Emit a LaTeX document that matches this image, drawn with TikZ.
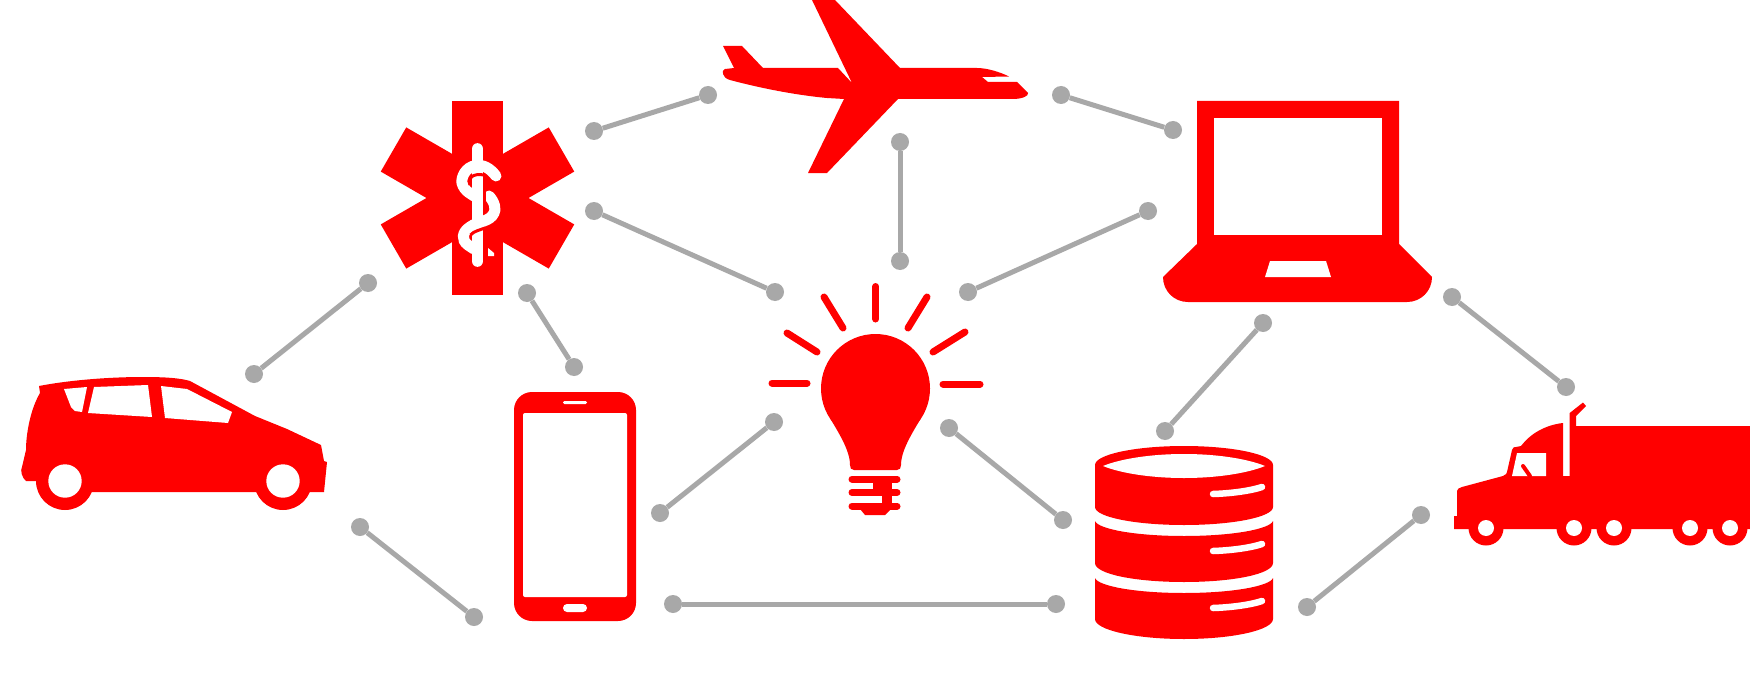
\documentclass[tikz,border=0pt]{standalone}
\definecolor{iconred}{HTML}{FF0000}
\definecolor{linkgray}{HTML}{A8A8A8}
\tikzset{
  icon/.style={fill=iconred,draw=none},
  hole/.style={fill=white,draw=none},
  ray/.style={draw=iconred,line width=7pt,line cap=round},
  cutline/.style={draw=white,line cap=round},
  dot/.style={circle,fill=linkgray,draw=none,minimum size=18pt,inner sep=0pt},
  link/.style={draw=linkgray,line width=5pt}
}
\begin{document}
\begin{tikzpicture}[x=1pt,y=-1pt]
\useasboundingbox (0,0) rectangle (1750,682);
\fill[white] (0,0) rectangle (1750,682);
% connector end points
\node[dot] (a1) at (594,131) {}; \node[dot] (a2) at (708,95) {};
\node[dot] (b1) at (594,211) {}; \node[dot] (b2) at (775,292) {};
\node[dot] (c1) at (900,142) {}; \node[dot] (c2) at (900,261) {};
\node[dot] (d1) at (1061,95) {}; \node[dot] (d2) at (1173,130) {};
\node[dot] (e1) at (1148,211) {}; \node[dot] (e2) at (968,292) {};
\node[dot] (f1) at (254,374) {}; \node[dot] (f2) at (368,283) {};
\node[dot] (g1) at (527,293) {}; \node[dot] (g2) at (574,367) {};
\node[dot] (h1) at (360,527) {}; \node[dot] (h2) at (474,617) {};
\node[dot] (i1) at (660,513) {}; \node[dot] (i2) at (774,422) {};
\node[dot] (j1) at (949,428) {}; \node[dot] (j2) at (1063,520) {};
\node[dot] (k1) at (673,604) {}; \node[dot] (k2) at (1056,604) {};
\node[dot] (l1) at (1165,431) {}; \node[dot] (l2) at (1263,323) {};
\node[dot] (m1) at (1452,297) {}; \node[dot] (m2) at (1566,387) {};
\node[dot] (n1) at (1307,607) {}; \node[dot] (n2) at (1421,515) {};
\foreach \p/\q in {a1/a2,b1/b2,c1/c2,d1/d2,e1/e2,f1/f2,g1/g2,h1/h2,i1/i2,j1/j2,k1/k2,l1/l2,m1/m2,n1/n2}
  \draw[link] (\p) -- (\q);
% car
\fill[icon] (39,386) .. controls (70,380) and (110,377) .. (143,377)
  .. controls (165,377) and (180,378) .. (190,381) -- (255,416) -- (287,429) -- (321,445)
  -- (324,461) -- (327,462) -- (324,492) -- (92,492) -- (36,481) -- (26,481)
  .. controls (22,478) and (20,470) .. (22,467) -- (26,450)
  .. controls (26,435) and (30,410) .. (40,393) -- cycle;
\fill[icon] (65,481) circle[radius=29pt];
\fill[icon] (283,481) circle[radius=29pt];
\fill[hole] (65,481) circle[radius=16.7pt];
\fill[hole] (283,481) circle[radius=16.7pt];
\fill[hole] (64,389) -- (87,387) -- (82,412) -- (75,411) -- (71,407) -- cycle;
\fill[hole] (94,387) -- (148,385) -- (152,417) -- (88,413) -- cycle;
\fill[hole] (161,386) -- (187,389) -- (232,412) -- (228,423) -- (165,418) -- cycle;
% star of life
\fill[icon] (452,101) rectangle (503,295);
\fill[icon,rotate around={60:(477.5,198)}] (452,101) rectangle (503,295);
\fill[icon,rotate around={-60:(477.5,198)}] (452,101) rectangle (503,295);
\draw[cutline,line width=11.7pt] (477.5,149) -- (477.5,261);
\draw[cutline,line width=11pt] (496,176) .. controls (490,168) and (483,164.5) .. (476,165.5)
  .. controls (465,167) and (461,178) .. (462,183) .. controls (464,191) and (472,195) .. (478,198);
\draw[iconred,line width=3pt] (470,185) .. controls (467,178) and (473,173) .. (484,175);
\draw[cutline,line width=11pt] (489,196) .. controls (495,202) and (496,210) .. (494,213)
  .. controls (490,222) and (478,221) .. (470,227) .. controls (462,232) and (461,240) .. (468,245) -- (474,249);
\draw[iconred,line width=3pt] (484.5,178) -- (484.5,212);
\draw[iconred,line width=3pt] (470.5,235) .. controls (474,231) and (480,230) .. (485,228);
\fill[hole] (488,248) -- (494,253) -- (494,256) -- (488,256) -- cycle;
% plane
\fill[icon] (723,46) -- (742,46) -- (763,68) -- (838,68) -- (852,83) -- (812,0) -- (835,0) -- (900,68)
  -- (977,68) .. controls (987,68) and (1000,72) .. (1009,76.5) -- (982,77) -- (988,82) -- (1017,82)
  -- (1028,93) .. controls (1029,96) and (1022,99) .. (1013,99) -- (898,99) -- (827,173) -- (808,173) -- (844,99)
  -- (827,98) .. controls (795,95) and (760,88) .. (730,80) .. controls (722,78) and (721,70) .. (725,69) -- (734,68) -- cycle;
% bulb
\fill[icon] (875.5,388.5) circle[radius=54.5pt];
\fill[icon] (830,418) .. controls (838,432) and (850,450) .. (850,465)
  .. controls (850,468) and (851,470) .. (854,470) -- (897,470)
  .. controls (900,470) and (901,468) .. (901,465) .. controls (901,450) and (913,432) .. (921,418) -- cycle;
\draw[ray] (852,479) -- (897,479);
\draw[ray] (852,492.5) -- (897,492.5);
\draw[ray] (852,506) -- (897,506);
\fill[icon] (873,479) rectangle (892,492);
\fill[icon] (882,492) rectangle (892,506);
\fill[icon] (860,509) -- (865,515) -- (885,515) -- (891,509) -- cycle;
\draw[ray] (875.7,286.5) -- (875.7,319);
\draw[ray] (927,297) -- (908,328);
\draw[ray] (965,332) -- (933,352);
\draw[ray] (943,384) -- (980,384);
\draw[ray] (824,297) -- (843,328);
\draw[ray] (787,333) -- (817,352);
\draw[ray] (772,383) -- (807,383);
% phone
\fill[icon,rounded corners=18pt] (514,392) rectangle (636,621);
\fill[hole,rounded corners=2pt] (523,413) rectangle (627,597);
\fill[hole,rounded corners=1.4pt] (563,401) rectangle (587,404);
\fill[hole,rounded corners=4pt] (563,604) rectangle (587,612);
% laptop
\fill[icon] (1197,101) -- (1399,101) -- (1399,244) -- (1432,277)
  .. controls (1432,291) and (1421,302) .. (1407,302) -- (1188,302)
  .. controls (1174,302) and (1163,291) .. (1163,277) -- (1197,244) -- cycle;
\fill[hole] (1214,118) rectangle (1382,235);
\fill[hole] (1270,261) -- (1326,261) -- (1331,277) -- (1265,277) -- cycle;
% database
\fill[icon] (1095,465) .. controls (1095,454.5) and (1135,446) .. (1184,446)
  .. controls (1233,446) and (1273,454.5) .. (1273,465) -- (1273,507)
  .. controls (1273,517) and (1233,525) .. (1184,525)
  .. controls (1135,525) and (1095,517) .. (1095,507) -- cycle;
\fill[hole] (1103,466) .. controls (1120,459) and (1150,454) .. (1184,454)
  .. controls (1218,454) and (1248,459) .. (1265,466)
  .. controls (1248,473) and (1218,478) .. (1184,478)
  .. controls (1150,478) and (1120,473) .. (1103,466) -- cycle;
\fill[icon] (1095,521) .. controls (1098,529) and (1135,536) .. (1184,536)
  .. controls (1233,536) and (1270,529) .. (1273,521) -- (1273,563)
  .. controls (1273,574) and (1233,582) .. (1184,582)
  .. controls (1135,582) and (1095,574) .. (1095,563) -- cycle;
\fill[icon] (1095,578) .. controls (1098,586) and (1135,593) .. (1184,593)
  .. controls (1233,593) and (1270,586) .. (1273,578) -- (1273,619)
  .. controls (1273,630) and (1233,639) .. (1184,639)
  .. controls (1135,639) and (1095,630) .. (1095,619) -- cycle;
\draw[cutline,line width=6.5pt] (1213,494) .. controls (1230,493.5) and (1250,491) .. (1262,487);
\draw[cutline,line width=6.5pt] (1213,551) .. controls (1230,550.5) and (1250,548) .. (1262,544);
\draw[cutline,line width=6.5pt] (1213,608) .. controls (1230,607.5) and (1250,605) .. (1262,601);
% truck
\fill[icon] (1454,516) -- (1457,516) -- (1457,491) .. controls (1457,489) and (1459,488) .. (1462,487)
  -- (1503,476) .. controls (1506,475) and (1507,473) .. (1507,472) -- (1512,450)
  .. controls (1513,447) and (1514,447) .. (1516,447) -- (1521,446)
  .. controls (1530,434) and (1545,425) .. (1563,423) -- (1563,476) -- (1569.7,476) -- (1569.7,413)
  -- (1583,402.5) -- (1586,406) -- (1576,416) -- (1576,426) -- (1750,426) -- (1750,529) -- (1454,529) -- cycle;
\foreach \wx in {1486,1574,1614,1690,1730} {
  \fill[icon] (\wx,528) circle[radius=17.5pt];
  \fill[hole] (\wx,528) circle[radius=8pt];
}
\fill[hole] (1517,453) -- (1546,453) -- (1546,476) -- (1512,476) -- cycle;
\draw[iconred,line width=4pt,line cap=round] (1523,466) -- (1530,476);
\end{tikzpicture}
\end{document}
